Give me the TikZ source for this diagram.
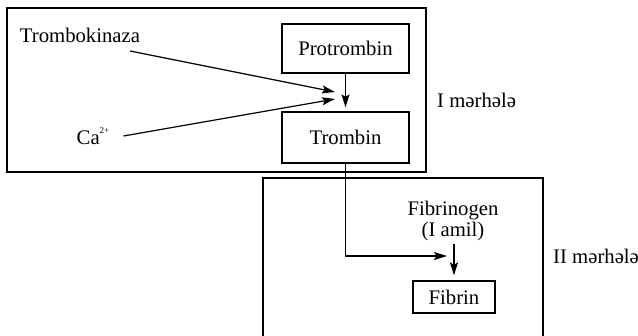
\documentclass[tikz,border=0pt]{standalone}
\usepackage{fontspec}
\setmainfont{Liberation Serif}
\usetikzlibrary{arrows.meta}
\begin{document}
\begin{tikzpicture}[x=1bp,y=-1bp,
  every node/.style={font=\fontsize{20.8}{23}\selectfont, inner sep=0pt},
  frame/.style={draw, line width=1.3bp, minimum width=#1},
  stagebox/.style={draw, line width=1.3bp},
  label text/.style={anchor=west},
  flow/.style={line width=1.2bp, -{Stealth[length=13bp,width=8bp,inset=2.5bp]}}]
  \useasboundingbox (0,0) rectangle (638,335);
  \clip (0,0) rectangle (638,335);
  \fill[white] (0,0) rectangle (638,335);

  % stage I: conversion of prothrombin
  \node[stagebox, minimum width=419bp, minimum height=164bp] (stageA) at (216.5,90) {};
  \node[frame=127bp, minimum height=49bp] (prot) at (345.5,48.5) {Protrombin};
  \node[frame=127bp, minimum height=51bp] (tromb) at (345.5,137.5) {Trombin};
  \node (tk) at (80,35) {Trombokinaza};
  \node (ca) at (93,136) {Ca\raisebox{0.55em}{\fontsize{9}{9}\selectfont 2+}};
  \node[label text] (lab1) at (437,100) {I mərhələ};
  \coordinate (tkstart) at (130,51);
  \coordinate (tktip) at (335,92);
  \coordinate (catip) at (335,99);
  \draw[flow] (tkstart) -- (tktip);
  \draw[flow] ([xshift=14bp]ca.east) -- (catip);
  \draw[flow, shorten >=4bp] (prot) -- (tromb);

  % stage II: fibrin formation
  \draw[line width=1.3bp] (263,345) |- (543,178) -- (543,345);
  \node[align=center] (fgen) at (453,221) {Fibrinogen\\[-2bp](I amil)};
  \node[frame=82bp, minimum height=32bp] (fib) at (454,297) {Fibrin};
  \node[label text] (lab2) at (553,256) {II mərhələ};
  \coordinate (ftip) at (447,256);
  \draw[flow] (tromb.south) |- (ftip);
  \draw[flow, shorten >=5bp] (fgen.south -| fib.north) ++(0,3) -- (fib.north);
\end{tikzpicture}
\end{document}
